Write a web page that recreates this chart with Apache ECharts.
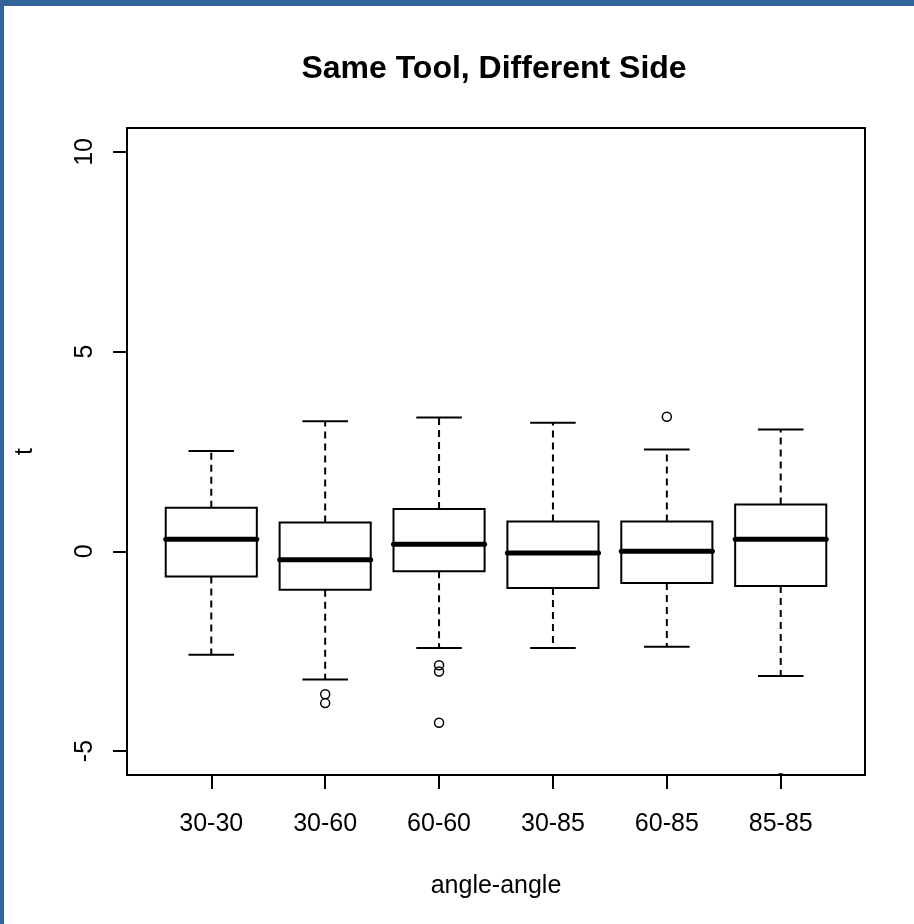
<!DOCTYPE html>
<html>
<head>
<meta charset="utf-8">
<script src="https://cdn.jsdelivr.net/npm/echarts@6/dist/echarts.min.js"></script>
<style>
  html, body { margin: 0; padding: 0; background: #ffffff; }
  #chart { width: 914px; height: 924px; }
</style>
</head>
<body>
<div id="chart"></div>
<script>
// ---- data ----
const categories = ['30-30', '30-60', '60-60', '30-85', '60-85', '85-85'];
const lowerWhisker = [-2.59, -3.21, -2.42, -2.42, -2.39, -3.12];
const q1Values     = [-0.63, -0.96, -0.50, -0.92, -0.79, -0.87];
const medianValues = [ 0.30, -0.21,  0.18, -0.04,  0.00,  0.30];
const q3Values     = [ 1.09,  0.72,  1.06,  0.75,  0.75,  1.17];
const upperWhisker = [ 2.51,  3.26,  3.35,  3.22,  2.55,  3.05];
// outliers: [category index (1-based), value]
const outlierGroup = [2, 2, 3, 3, 3, 5, 6];
const outlierValue = [-3.58, -3.80, -2.85, -3.01, -4.29, 3.37, -5.68];
const yTicks = [-5, 0, 5, 10];

const titleText = 'Same Tool, Different Side';
const xName = 'angle-angle';
const yName = 't';

// ---- build series data ----
const boxData = categories.map((c, i) => [i + 1, lowerWhisker[i], q1Values[i], medianValues[i], q3Values[i], upperWhisker[i]]);
const outlierData = outlierGroup.map((g, i) => [g, outlierValue[i]]);
const xTicks = categories.map((c, i) => i + 1);

const FONT = 'Liberation Sans, Arial, sans-serif';
const LW = 2;

function renderBox(params, api) {
  const x = api.value(0);
  const lo = api.value(1), q1 = api.value(2), md = api.value(3), q3 = api.value(4), hi = api.value(5);
  const half = 0.4, capHalf = 0.2;
  const tl = api.coord([x - half, q3]);
  const br = api.coord([x + half, q1]);
  const mL = api.coord([x - half, md]);
  const mR = api.coord([x + half, md]);
  const cHi = api.coord([x, hi]);
  const cLo = api.coord([x, lo]);
  const cQ3 = api.coord([x, q3]);
  const cQ1 = api.coord([x, q1]);
  const capL = api.coord([x - capHalf, hi]);
  const capR = api.coord([x + capHalf, hi]);
  const capL2 = api.coord([x - capHalf, lo]);
  const capR2 = api.coord([x + capHalf, lo]);
  const solid = { stroke: '#000', lineWidth: LW, fill: null };
  const dashed = { stroke: '#000', lineWidth: LW, lineDash: [7, 5], fill: null };
  return {
    type: 'group',
    children: [
      { type: 'line', shape: { x1: cQ3[0], y1: cQ3[1], x2: cHi[0], y2: cHi[1] }, style: dashed },
      { type: 'line', shape: { x1: cQ1[0], y1: cQ1[1], x2: cLo[0], y2: cLo[1] }, style: dashed },
      { type: 'line', shape: { x1: capL[0], y1: capL[1], x2: capR[0], y2: capR[1] }, style: solid },
      { type: 'line', shape: { x1: capL2[0], y1: capL2[1], x2: capR2[0], y2: capR2[1] }, style: solid },
      { type: 'rect', shape: { x: tl[0], y: tl[1], width: br[0] - tl[0], height: br[1] - tl[1] }, style: { stroke: '#000', lineWidth: LW, fill: 'none' } },
      { type: 'line', shape: { x1: mL[0], y1: mL[1], x2: mR[0], y2: mR[1] }, style: { stroke: '#000', lineWidth: 5, lineCap: 'round' } }
    ]
  };
}

function renderOutlier(params, api) {
  const p = api.coord([api.value(0), api.value(1)]);
  return {
    type: 'circle',
    shape: { cx: p[0], cy: p[1], r: 4.5 },
    style: { stroke: '#000', lineWidth: 1.5, fill: 'none' }
  };
}

const chart = echarts.init(document.getElementById('chart'), null, { renderer: 'canvas' });
chart.setOption({
  backgroundColor: '#ffffff',
  animation: false,
  title: {
    text: titleText,
    left: 494,
    top: 53,
    padding: 0,
    textAlign: 'center',
    textStyle: { fontFamily: FONT, fontSize: 32, fontWeight: 'bold', color: '#000' }
  },
  graphic: [
    { type: 'rect', left: 0, top: 0, shape: { width: 4, height: 924 }, style: { fill: '#33659a' }, z: 100 },
    { type: 'rect', left: 0, top: 0, shape: { width: 914, height: 6 }, style: { fill: '#33659a' }, z: 100 }
  ],
  grid: {
    left: 127, right: 49, top: 128, bottom: 149,
    show: true, borderColor: '#000', borderWidth: LW, backgroundColor: 'transparent',
    containLabel: false
  },
  xAxis: {
    type: 'value',
    min: 0.26, max: 6.74,
    splitLine: { show: false },
    axisLine: { show: false, onZero: false },
    axisTick: { show: true, customValues: xTicks, length: 14, inside: false, lineStyle: { color: '#000', width: LW } },
    axisLabel: {
      show: true, customValues: xTicks, margin: 37,
      fontFamily: FONT, fontSize: 25, color: '#000',
      formatter: v => categories[Math.round(v) - 1] || ''
    },
    name: xName, nameLocation: 'middle', nameGap: 99,
    nameTextStyle: { fontFamily: FONT, fontSize: 25, color: '#000' }
  },
  yAxis: {
    type: 'value',
    min: -5.6, max: 10.6,
    splitLine: { show: false },
    axisLine: { show: false, onZero: false },
    axisTick: { show: true, customValues: yTicks, length: 14, inside: false, lineStyle: { color: '#000', width: LW } },
    axisLabel: {
      show: true, customValues: yTicks, rotate: 90, margin: 29,
      fontFamily: FONT, fontSize: 25, color: '#000'
    },
    name: yName, nameLocation: 'middle', nameGap: 89, nameRotate: 90,
    nameTextStyle: { fontFamily: FONT, fontSize: 25, color: '#000' }
  },
  series: [
    { type: 'custom', name: 'box', data: boxData, renderItem: renderBox, clip: true, encode: { x: 0, y: [1, 2, 3, 4, 5] } },
    { type: 'custom', name: 'outliers', data: outlierData, renderItem: renderOutlier, clip: true, encode: { x: 0, y: 1 } }
  ]
});
</script>
</body>
</html>
